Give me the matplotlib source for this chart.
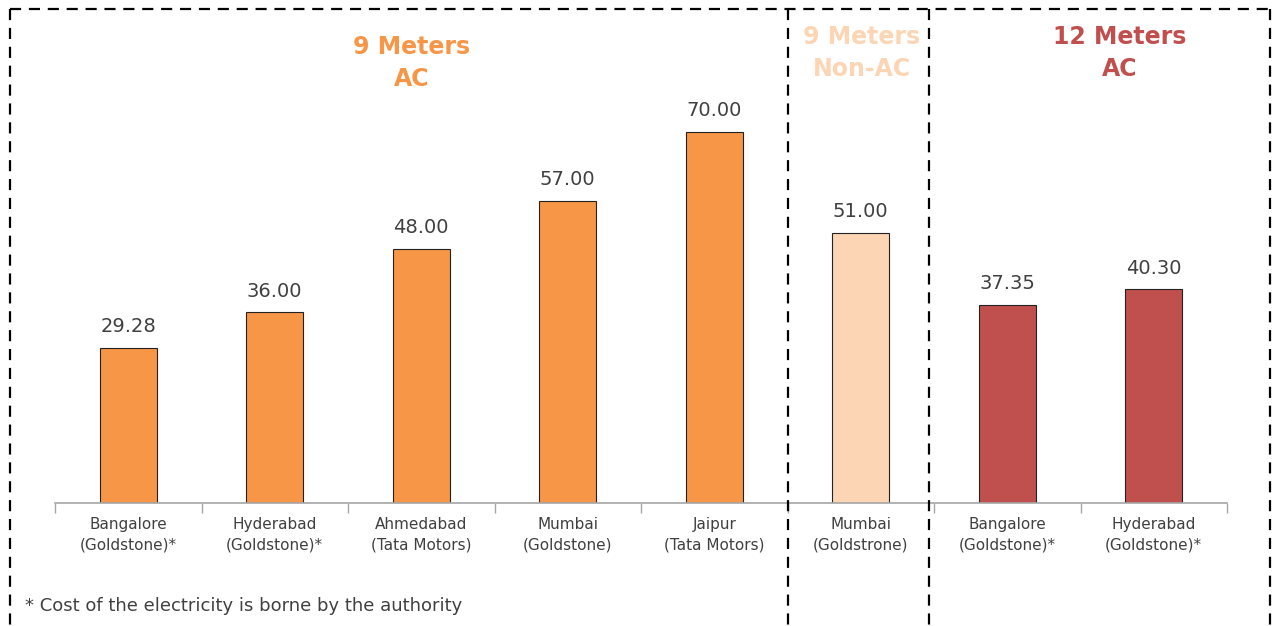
import matplotlib.pyplot as plt
from matplotlib.lines import Line2D
import numpy as np

# Data
cities = ["Bangalore\n(Goldstone)*", "Hyderabad\n(Goldstone)*", "Ahmedabad\n(Tata Motors)",
          "Mumbai\n(Goldstone)", "Jaipur\n(Tata Motors)", "Mumbai\n(Goldstrone)",
          "Bangalore\n(Goldstone)*", "Hyderabad\n(Goldstone)*"]
costs = [29.28, 36.00, 48.00, 57.00, 70.00, 51.00, 37.35, 40.30]
groups = ["9m_ac"] * 5 + ["9m_nonac"] + ["12m_ac"] * 2
group_colors = {"9m_ac": "#F79646", "9m_nonac": "#FCD5B4", "12m_ac": "#C0504D"}
group_titles = {"9m_ac": "9 Meters\nAC", "9m_nonac": "9 Meters\nNon-AC", "12m_ac": "12 Meters\nAC"}

W, H = 1274, 626
fig = plt.figure(figsize=(W / 100, H / 100), dpi=100)
ax = fig.add_axes([55 / W, 1 - 503 / H, (1227 - 55) / W, (503 - 79) / H])

x = np.arange(len(costs))
colors = [group_colors[g] for g in groups]
bars = ax.bar(x, costs, width=0.39, color=colors, edgecolor="#222222", linewidth=0.8)
for xi, v in zip(x, costs):
    ax.text(xi, v + 2.2, f"{v:.2f}", ha="center", va="bottom", fontsize=14, color="#404040")

ax.set_xlim(-0.5, len(costs) - 0.5)
ax.set_ylim(0, 80)
ax.set_xticks(x)
ax.set_xticklabels(cities, fontsize=11, color="#404040", linespacing=1.45)
ax.tick_params(axis="x", which="major", length=0, pad=10)
ax.set_xticks(np.arange(-0.5, len(costs)), minor=True)
ax.tick_params(axis="x", which="minor", length=7, color="#A6A6A6", width=1)
ax.set_yticks([])
for s in ["top", "right", "left"]:
    ax.spines[s].set_visible(False)
ax.spines["bottom"].set_color("#A6A6A6")
ax.spines["bottom"].set_linewidth(1.2)

# Group titles
for g, xc, yc in [("9m_ac", 412, 63), ("9m_nonac", 862, 53), ("12m_ac", 1120, 53)]:
    fig.text(xc / W, 1 - yc / H, group_titles[g], ha="center", va="center",
             fontsize=17, fontweight="bold", color=group_colors[g], linespacing=1.4)

# Dashed boxes
dash = dict(color="black", linewidth=1.6, linestyle=(0, (5, 3.5)))
fig.add_artist(Line2D([10 / W, 1270 / W], [1 - 9 / H, 1 - 9 / H], **dash))
for xv in [10, 788, 929, 1270]:
    fig.add_artist(Line2D([xv / W, xv / W], [1 - 9 / H, 0], **dash))

# Footnote
fig.text(25 / W, 1 - 606 / H, "* Cost of the electricity is borne by the authority",
         ha="left", va="center", fontsize=13, color="#404040")

fig.savefig("out.png", dpi=100)
